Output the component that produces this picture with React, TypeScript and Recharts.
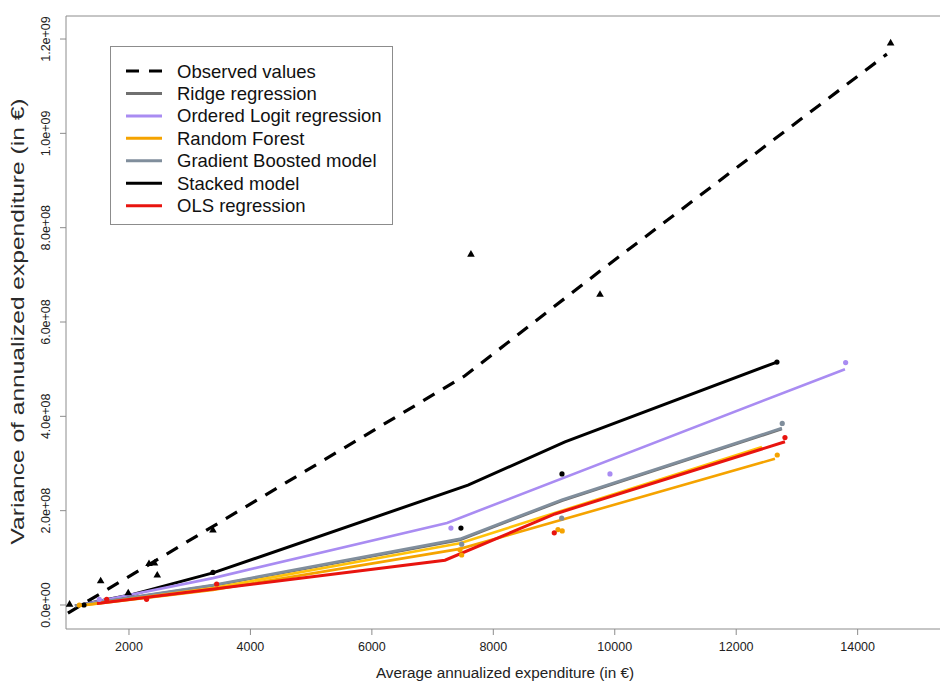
import { ComposedChart, Legend, Line, ReferenceArea, Scatter, XAxis, YAxis } from "recharts";

// values (x in €, y = variance)
const obsLineX = [995, 7533, 9757, 14482];
const obsLineY = [-1.7e7, 4.86e8, 7.08e8, 1.168e9];
const obsPtX = [1022, 1534, 1988, 2330, 2420, 2466, 3383, 7632, 9757, 14543];
const obsPtY = [2e6, 5.15e7, 2.6e7, 8.8e7, 8.9e7, 6.36e7, 1.59e8, 7.44e8, 6.59e8, 1.192e9];

const stackX = [1111, 2016, 3383, 7583, 9180, 12671];
const stackY = [-2e6, 2.1e7, 6.8e7, 2.54e8, 3.46e8, 5.15e8];
const stackPtX = [1259, 3383, 7467, 9131, 12671];
const stackPtY = [0, 6.9e7, 1.63e8, 2.78e8, 5.15e8];

const logitX = [1111, 3383, 7237, 13791];
const logitY = [-2e6, 5.7e7, 1.74e8, 5.0e8];
const logitPtX = [1511, 7302, 9921, 13802];
const logitPtY = [1.2e7, 1.63e8, 2.78e8, 5.14e8];

const ridgeX = [1111, 3383, 7451, 9131, 12753];
const ridgeY = [-2e6, 4.1e7, 1.38e8, 2.21e8, 3.73e8];

const gbmX = [1111, 3383, 7451, 9131, 12753];
const gbmY = [-2e6, 4.2e7, 1.4e8, 2.23e8, 3.75e8];
const gbmPtX = [7479, 9126, 12758];
const gbmPtY = [1.29e8, 1.84e8, 3.85e8];

const goldX = [1160, 3383, 7451, 12424];
const goldY = [-2e6, 3.6e7, 1.31e8, 3.35e8];

const rfX = [1160, 3383, 7451, 12638];
const rfY = [-2e6, 3.2e7, 1.19e8, 3.1e8];
const rfPtX = [1182, 7451, 7479, 9065, 9135, 12676];
const rfPtY = [0, 1.17e8, 1.06e8, 1.6e8, 1.57e8, 3.18e8];

const olsX = [1473, 7204, 9015, 12803];
const olsY = [3e6, 9.5e7, 1.93e8, 3.46e8];
const olsPtX = [1633, 2290, 3444, 9004, 12803];
const olsPtY = [1.2e7, 1.2e7, 4.45e7, 1.53e8, 3.55e8];

const X_TICKS = [2000, 4000, 6000, 8000, 10000, 12000, 14000];
const Y_TICKS = [0, 2e8, 4e8, 6e8, 8e8, 1e9, 1.2e9];
const X_DOMAIN = [963, 15422];
const Y_DOMAIN = [-5.09e7, 1.2488e9];

const LEGEND_NAMES = [
  "Observed values",
  "Ridge regression",
  "Ordered Logit regression",
  "Random Forest",
  "Gradient Boosted model",
  "Stacked model",
  "OLS regression",
];
const LEGEND_COLORS = ["#000000", "#707070", "#a98cf2", "#f5a300", "#808e9c", "#000000", "#e8140f"];

const FONT = "'Liberation Sans', Arial, sans-serif";

const pts = (xs: number[], ys: number[]) => xs.map((x, i) => ({ x, y: ys[i] }));

function fmtSci(v: number) {
  const [m, e] = v.toExponential(1).split("e");
  return `${m}e${e[0]}${e.slice(1).padStart(2, "0")}`;
}

function YTick({ x, y, payload }: any) {
  const bx = x - 8;
  return (
    <text
      x={bx}
      y={y}
      transform={`rotate(-90, ${bx}, ${y})`}
      textAnchor="middle"
      fontSize={12.5}
      fontFamily={FONT}
      fill="#222"
    >
      {fmtSci(payload.value)}
    </text>
  );
}

const dot = (color: string) => (p: any) => <circle cx={p.cx} cy={p.cy} r={2.6} fill={color} />;
const tri = (p: any) => (
  <polygon
    points={`${p.cx},${p.cy - 4} ${p.cx - 3.8},${p.cy + 2.6} ${p.cx + 3.8},${p.cy + 2.6}`}
    fill="#000"
  />
);

function LegendBox() {
  return (
    <svg width={283} height={179}>
      <rect x={0.5} y={0.5} width={282} height={178} fill="#fff" stroke="#8c8c8c" />
      {LEGEND_NAMES.map((name, i) => {
        const cy = 25 + i * 22.45;
        return (
          <g key={name}>
            <line
              x1={16}
              x2={52}
              y1={cy}
              y2={cy}
              stroke={LEGEND_COLORS[i]}
              strokeWidth={3}
              strokeDasharray={i === 0 ? "13 10" : undefined}
            />
            <text x={67} y={cy + 6.5} fontSize={18.5} fontFamily={FONT} fill="#111">
              {name}
            </text>
          </g>
        );
      })}
    </svg>
  );
}

export default function App() {
  return (
    <div
      style={{
        position: "absolute",
        left: 0,
        top: 0,
        width: 940,
        height: 681,
        overflow: "hidden",
        background: "#fff",
      }}
    >
      <ComposedChart width={946} height={681} margin={{ top: 16, right: 2, bottom: 0, left: 0 }}>
        <XAxis
          dataKey="x"
          type="number"
          domain={X_DOMAIN}
          ticks={X_TICKS}
          allowDataOverflow
          axisLine={false}
          tickLine={{ stroke: "#8c8c8c" }}
          tickSize={6}
          tickMargin={7}
          height={52}
          tick={{ fontSize: 12.5, fontFamily: FONT, fill: "#222" }}
          label={{
            content: ({ viewBox }: any) => (
              <text
                x={viewBox.x + viewBox.width / 2}
                y={viewBox.y + 49}
                textAnchor="middle"
                fontSize={15.3}
                fontFamily={FONT}
                fill="#222"
              >
                Average annualized expenditure (in €)
              </text>
            ),
          }}
        />
        <YAxis
          type="number"
          domain={Y_DOMAIN}
          ticks={Y_TICKS}
          allowDataOverflow
          axisLine={false}
          tickLine={{ stroke: "#8c8c8c" }}
          tickSize={6}
          tickMargin={2}
          width={66}
          tick={<YTick />}
          label={{
            content: ({ viewBox }: any) => {
              const cx = 24;
              const cy = viewBox.y + viewBox.height / 2 - 1;
              return (
                <text
                  x={cx}
                  y={cy}
                  transform={`rotate(-90, ${cx}, ${cy})`}
                  textAnchor="middle"
                  fontSize={19}
                  textLength={446}
                  lengthAdjust="spacingAndGlyphs"
                  fontFamily={FONT}
                  fill="#2a2a2a"
                >
                  Variance of annualized expenditure (in €)
                </text>
              );
            },
          }}
        />
        <ReferenceArea
          x1={X_DOMAIN[0]}
          x2={X_DOMAIN[1]}
          y1={Y_DOMAIN[0]}
          y2={Y_DOMAIN[1]}
          fill="none"
          stroke="#8c8c8c"
          strokeWidth={1}
        />
        <Legend
          layout="horizontal"
          verticalAlign="middle"
          align="center"
          content={() => <LegendBox />}
          wrapperStyle={{ position: "absolute", left: 110, top: 46, width: 283, height: 179 }}
        />

        <Line data={pts(obsLineX, obsLineY)} dataKey="y" type="linear" stroke="#000" strokeWidth={3.2}
          strokeDasharray="13 10" dot={false} isAnimationActive={false} legendType="none" />
        <Line data={pts(stackX, stackY)} dataKey="y" type="linear" stroke="#000" strokeWidth={3}
          dot={false} isAnimationActive={false} legendType="none" />
        <Line data={pts(logitX, logitY)} dataKey="y" type="linear" stroke="#a98cf2" strokeWidth={2.6}
          dot={false} isAnimationActive={false} legendType="none" />
        <Line data={pts(ridgeX, ridgeY)} dataKey="y" type="linear" stroke="#707070" strokeWidth={2.6}
          dot={false} isAnimationActive={false} legendType="none" />
        <Line data={pts(gbmX, gbmY)} dataKey="y" type="linear" stroke="#808e9c" strokeWidth={2.8}
          dot={false} isAnimationActive={false} legendType="none" />
        <Line data={pts(goldX, goldY)} dataKey="y" type="linear" stroke="#ffc20a" strokeWidth={2.6}
          dot={false} isAnimationActive={false} legendType="none" />
        <Line data={pts(rfX, rfY)} dataKey="y" type="linear" stroke="#f5a300" strokeWidth={2.6}
          dot={false} isAnimationActive={false} legendType="none" />
        <Line data={pts(olsX, olsY)} dataKey="y" type="linear" stroke="#e8140f" strokeWidth={3}
          dot={false} isAnimationActive={false} legendType="none" />

        <Scatter data={pts(obsPtX, obsPtY)} dataKey="y" shape={tri} isAnimationActive={false} legendType="none" />
        <Scatter data={pts(stackPtX, stackPtY)} dataKey="y" shape={dot("#000")} isAnimationActive={false} legendType="none" />
        <Scatter data={pts(logitPtX, logitPtY)} dataKey="y" shape={dot("#a98cf2")} isAnimationActive={false} legendType="none" />
        <Scatter data={pts(gbmPtX, gbmPtY)} dataKey="y" shape={dot("#808e9c")} isAnimationActive={false} legendType="none" />
        <Scatter data={pts(rfPtX, rfPtY)} dataKey="y" shape={dot("#f5a300")} isAnimationActive={false} legendType="none" />
        <Scatter data={pts(olsPtX, olsPtY)} dataKey="y" shape={dot("#e8140f")} isAnimationActive={false} legendType="none" />
      </ComposedChart>
    </div>
  );
}
